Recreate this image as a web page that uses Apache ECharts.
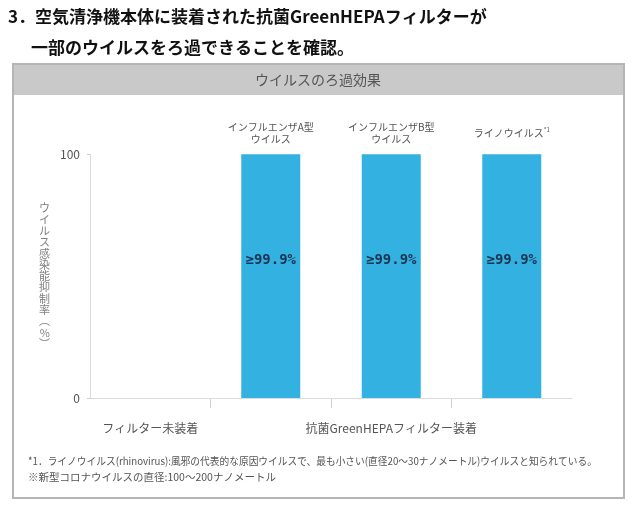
<!DOCTYPE html>
<html><head><meta charset="utf-8">
<script src="https://cdn.jsdelivr.net/npm/echarts@6/dist/echarts.min.js"></script>
<style>html,body{margin:0;padding:0;background:#fff}#c{width:640px;height:507px}</style>
</head><body><div id="c"></div>
<script>
const categories = ['フィルター未装着', 'インフルエンザA型ウイルス', 'インフルエンザB型ウイルス', 'ライノウイルス'];
const topLabels = ['', 'インフルエンザA型\nウイルス', 'インフルエンザB型\nウイルス', 'ライノウイルス{s|*1}'];
const groupLabels = ['フィルター未装着', '', '抗菌GreenHEPAフィルター装着', ''];
const values = [null, 99.9, 99.9, 99.9];
const valueLabels = ['', '≥99.9%', '≥99.9%', '≥99.9%'];
const yTicks = [0, 100];
const titleLines = ['3．空気清浄機本体に装着された抗菌GreenHEPAフィルターが', '一部のウイルスをろ過できることを確認。'];
const panelTitle = 'ウイルスのろ過効果';
const yName = 'ウイルス感染能抑制率︵%︶';
const notes = ['*1．ライノウイルス(rhinovirus):風邪の代表的な原因ウイルスで、最も小さい(直径20～30ナノメートル)ウイルスと知られている。', '※新型コロナウイルスの直径:100～200ナノメートル'];

const FONT = '"Noto Sans CJK JP", "Noto Sans", sans-serif';
const chart = echarts.init(document.getElementById('c'), null, {renderer: 'canvas'});
const gl = {left: 90, right: 68};
chart.setOption({
  animation: false,
  textStyle: {fontFamily: FONT},
  graphic: [
    {type: 'rect', shape: {x: 13, y: 64, width: 611, height: 31}, style: {fill: '#c9c9c9', stroke: null}, z: 0},
    {type: 'rect', shape: {x: 13, y: 64, width: 611, height: 434}, style: {fill: null, stroke: '#b5b5b5', lineWidth: 2}, z: 1},
    {type: 'text', x: 318, y: 80, style: {text: panelTitle, font: '14px ' + FONT, fill: '#555', align: 'center', verticalAlign: 'middle'}},
    {type: 'text', x: 8, y: 17, style: {text: titleLines[0], font: 'bold 17px ' + FONT, fill: '#111', verticalAlign: 'middle'}},
    {type: 'text', x: 31, y: 48, style: {text: titleLines[1], font: 'bold 17px ' + FONT, fill: '#111', verticalAlign: 'middle'}},
    {type: 'text', x: 28, y: 461, scaleX: 0.925, style: {text: notes[0], font: '10.5px ' + FONT, fill: '#555', verticalAlign: 'middle'}},
    {type: 'text', x: 28, y: 477, style: {text: notes[1], font: '10.5px ' + FONT, fill: '#555', verticalAlign: 'middle'}}
  ],
  grid: [
    {left: gl.left, right: gl.right, top: 154, bottom: 109},
    {left: gl.left, right: gl.right, top: 399, height: 9}
  ],
  xAxis: [
    {type: 'category', gridIndex: 0, data: categories, position: 'bottom',
     axisLine: {lineStyle: {color: '#dcdcdc', width: 1}}, axisTick: {show: false},
     axisLabel: {interval: 0, margin: 24, color: '#555', fontSize: 12, fontFamily: FONT,
       formatter: (v, i) => groupLabels[i]}},
    {type: 'category', gridIndex: 0, data: categories, position: 'top',
     axisLine: {show: false}, axisTick: {show: false},
     axisLabel: {interval: 0, margin: 21, color: '#555', fontSize: 10, lineHeight: 12.5, fontFamily: FONT,
       verticalAlign: 'middle', formatter: (v, i) => topLabels[i],
       rich: {s: {fontSize: 6, verticalAlign: 'top', color: '#555', padding: [0, 0, 6, 0]}}}},
    {type: 'category', gridIndex: 1, data: categories,
     axisLine: {show: false}, axisTick: {show: false},
     axisLabel: {show: true, interval: 0, formatter: () => ''},
     splitLine: {show: true, interval: 0, showMinLine: false, showMaxLine: false, lineStyle: {color: '#cfcfcf', width: 1}}}
  ],
  yAxis: [
    {type: 'value', gridIndex: 0, min: yTicks[0], max: yTicks[1], interval: 100,
     name: yName.split('').join('\n'), nameLocation: 'middle', nameRotate: 0, nameGap: 40,
     nameTextStyle: {color: '#808080', fontSize: 11, lineHeight: 11.3, fontFamily: FONT},
     axisLine: {show: true, lineStyle: {color: '#dcdcdc'}},
     axisTick: {show: true, length: 3, lineStyle: {color: '#ccc'}},
     splitLine: {show: false},
     axisLabel: {color: '#555', fontSize: 12, margin: 10, fontFamily: FONT}},
    {type: 'value', gridIndex: 1, min: 0, max: 1, show: false}
  ],
  series: [{
    type: 'bar', xAxisIndex: 0, yAxisIndex: 0, data: values, barWidth: 59,
    itemStyle: {color: '#33b1e1'},
    label: {show: true, position: 'inside', offset: [0, -16],
      formatter: p => valueLabels[p.dataIndex],
      fontFamily: '"DejaVu Sans Mono", monospace', fontWeight: 'bold', fontSize: 14, color: '#1e3452'}
  }, {
    type: 'bar', xAxisIndex: 2, yAxisIndex: 1, data: [], silent: true
  }]
});
</script></body></html>
